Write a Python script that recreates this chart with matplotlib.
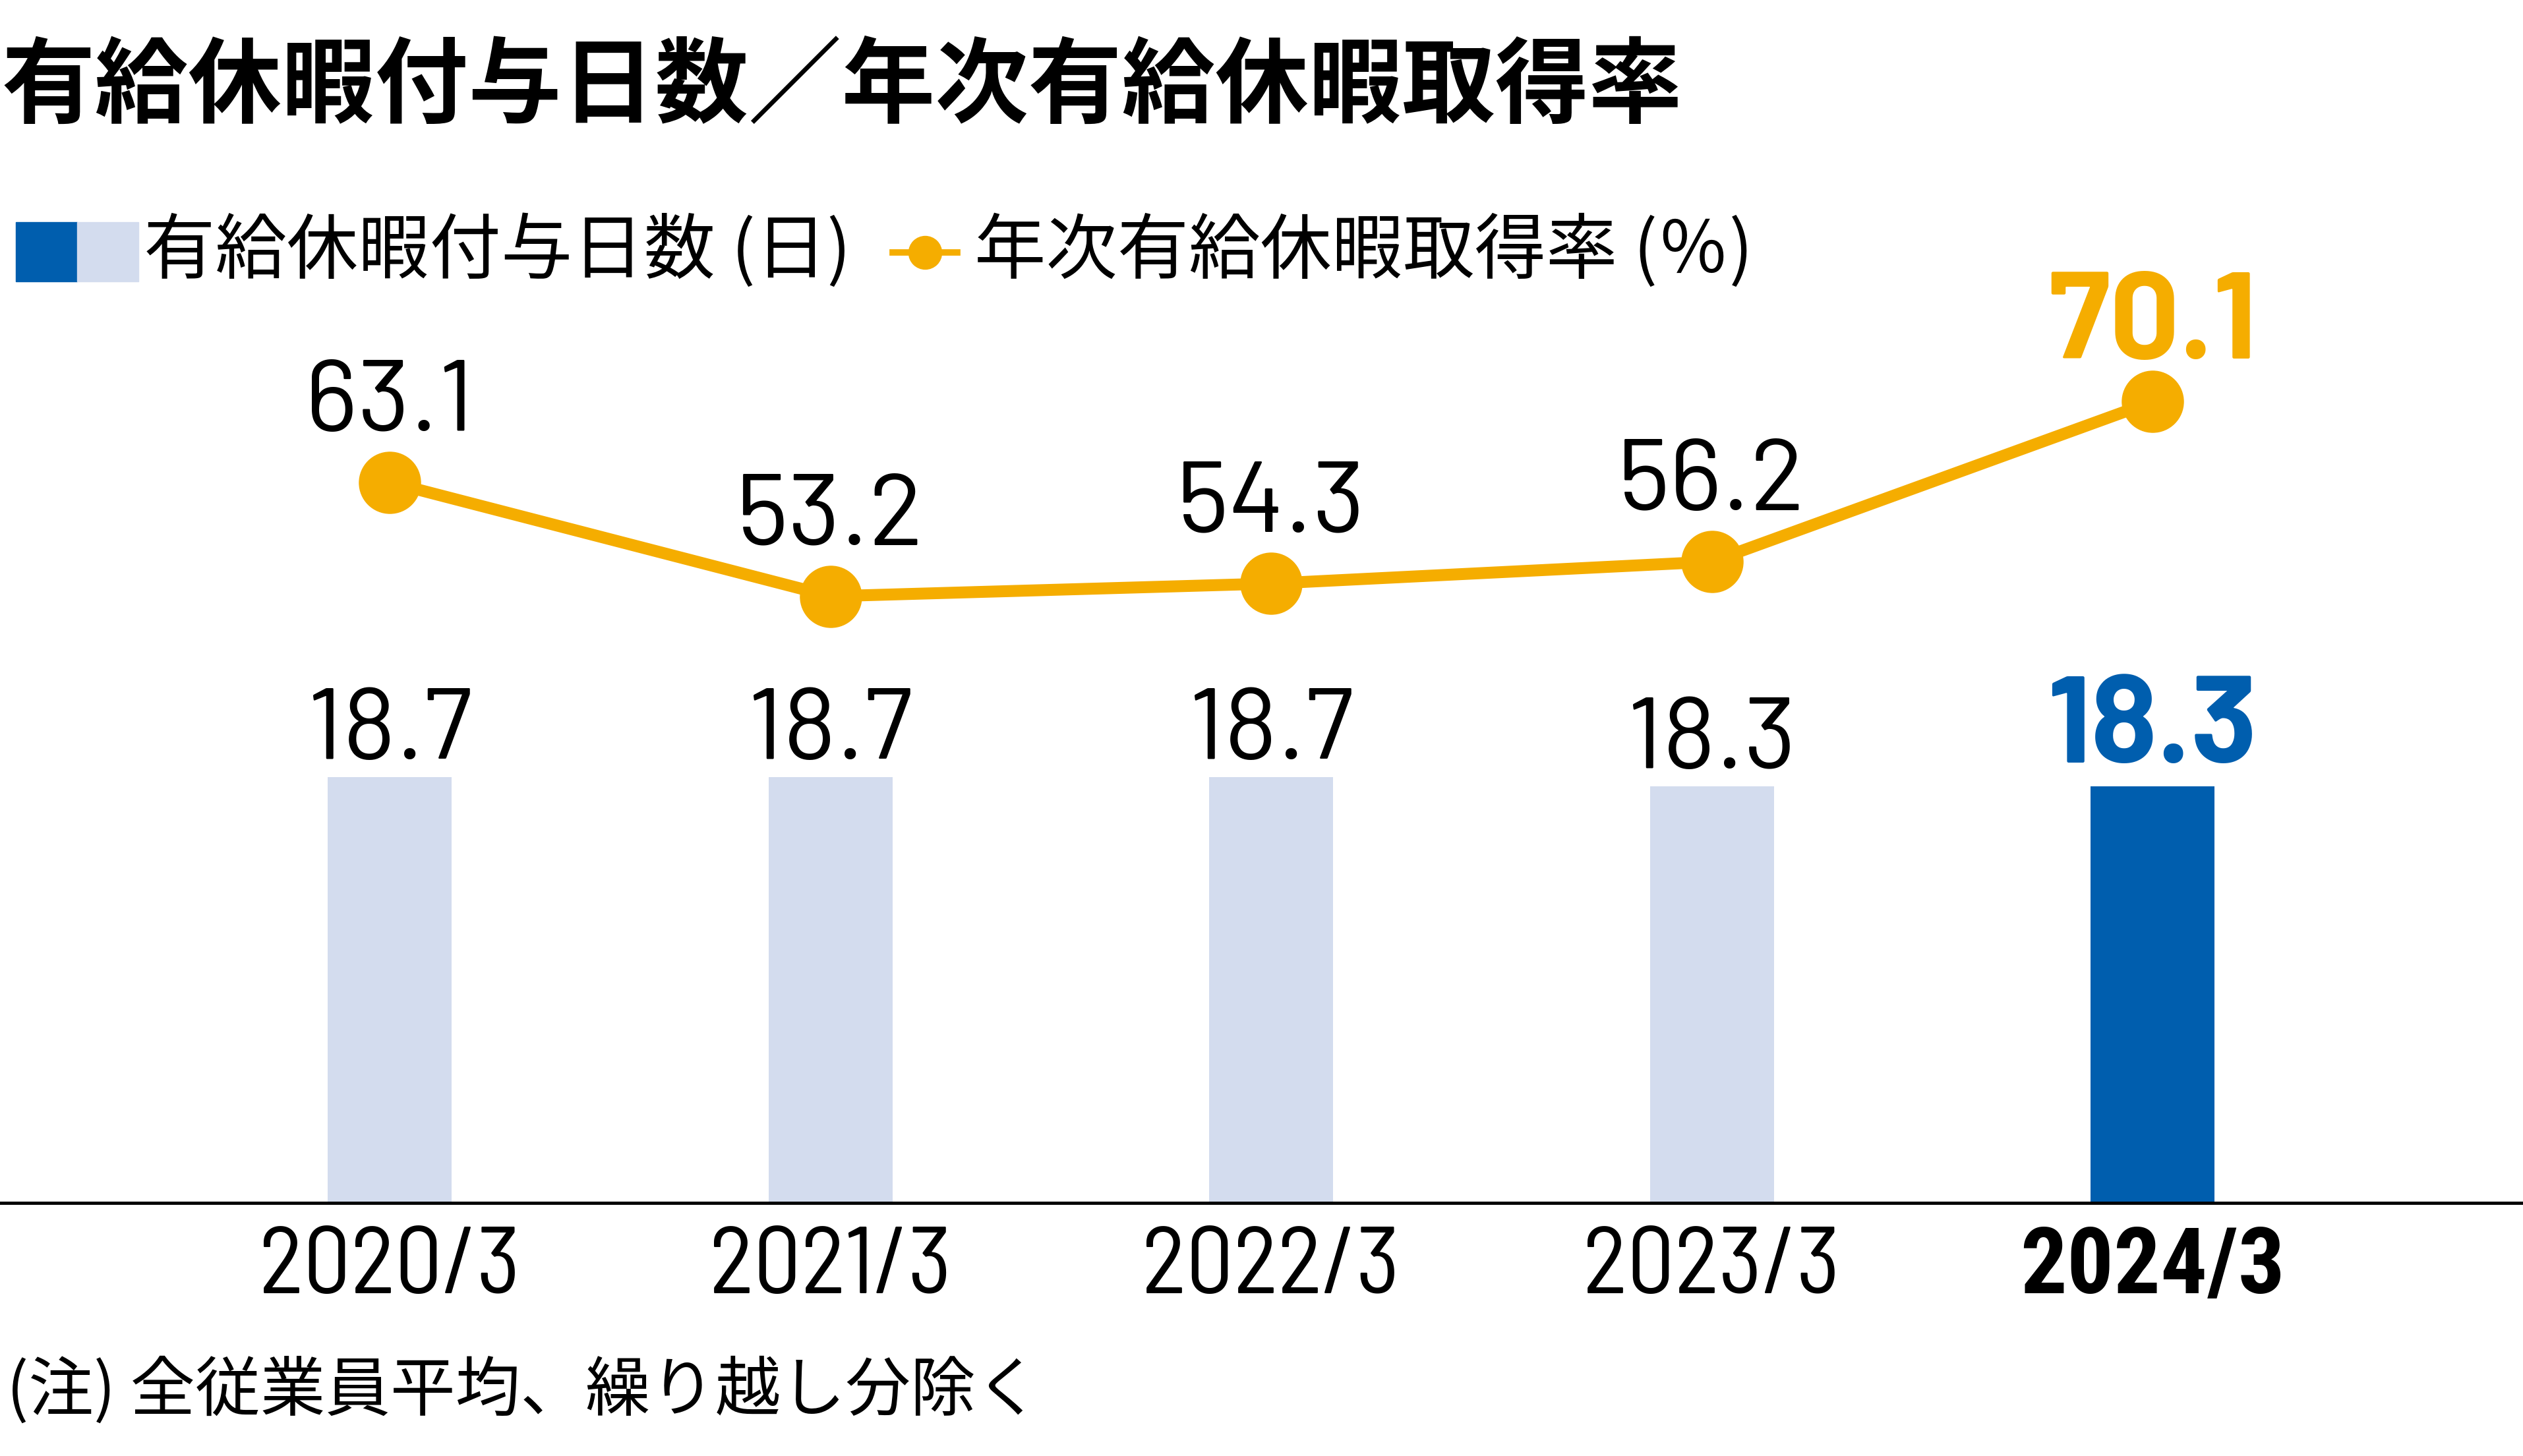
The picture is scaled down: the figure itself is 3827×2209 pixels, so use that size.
import matplotlib
matplotlib.use("Agg")
import matplotlib.pyplot as plt
from matplotlib.patches import Rectangle
from matplotlib.lines import Line2D
from matplotlib import font_manager as fm
from matplotlib.font_manager import FontProperties
from matplotlib.textpath import TextPath

categories = ["2020/3", "2021/3", "2022/3", "2023/3", "2024/3"]
days = [18.7, 18.7, 18.7, 18.3, 18.3]
rate = [63.1, 53.2, 54.3, 56.2, 70.1]
day_labels = ["18.7", "18.7", "18.7", "18.3", "18.3"]
rate_labels = ["63.1", "53.2", "54.3", "56.2", "70.1"]

title = "有給休暇付与日数／年次有給休暇取得率"
legend1 = "有給休暇付与日数 (日)"
legend2 = "年次有給休暇取得率 (％)"
note = "(注) 全従業員平均、繰り越し分除く"

LIGHT = "#D3DCEE"
BLUE = "#005EAE"
YEL = "#F5AD00"

W, H = 3827, 2209
DPI = 100

# ---- pick a DIN-like numeric font whose proportions fit best ----
names = {f.name for f in fm.fontManager.ttflist}
cands = [c for c in ["Barlow Condensed", "Barlow Semi Condensed", "Barlow",
                     "Roboto Condensed", "Roboto"] if c in names] or ["DejaVu Sans"]


def ink(text, family, weight):
    tp = TextPath((0, 0), text, size=100,
                  prop=FontProperties(family=family, weight=weight))
    e = tp.get_extents()
    return e.width, e.height


def pick(text, weight, target):
    best, bd = cands[0], 1e9
    for c in cands:
        w, _ = ink(text, c, weight)
        _, hc = ink("1", c, weight)
        d = abs(w / hc - target)
        if d < bd:
            best, bd = c, d
    return best


NUM_R = pick("18.7", "normal", 233 / 109)
NUM_B = pick("70.1", "bold", 313 / 131)
TICK_R = pick("2020/3", "normal", 366 / 100)
TICK_B = pick("2024/3", "bold", 386 / 100)


def size_for(cap_px, family, weight):
    _, hc = ink("1", family, weight)
    return cap_px / (hc / 100 * DPI / 72)


SZ_VAL = size_for(108, NUM_R, "normal")
SZ_BOLD = size_for(131, NUM_B, "bold")
SZ_TICK = size_for(100, TICK_R, "normal")
SZ_TICKB = size_for(100, TICK_B, "bold")

CJK = ["Noto Sans CJK JP", "DejaVu Sans"]

fig = plt.figure(figsize=(W / DPI, H / DPI), dpi=DPI)


def fx(px):
    return px / W


def fy(py):
    return 1 - py / H


PT = 72 / DPI  # points per pixel

base_y = 1825
top_y = 450
ax = fig.add_axes([0, fy(base_y), 1, (base_y - top_y) / H])
x = list(range(len(categories)))
ax.set_xlim(-591 / 668.5, (W - 591) / 668.5)
ax.set_ylim(0, (base_y - top_y) / 34.55)

bar_colors = [LIGHT] * 4 + [BLUE]
ax.bar(x, days, width=188 / 668.5, color=bar_colors, zorder=2)

for spine in ["top", "right", "left"]:
    ax.spines[spine].set_visible(False)
ax.spines["bottom"].set_linewidth(3.5)
ax.spines["bottom"].set_color("black")
ax.set_yticks([])
ax.set_xticks(x)
ax.set_xticklabels([""] * len(x))
ax.tick_params(axis="x", length=0)

# category labels, baseline 137 px below the axis line
for i, lab in enumerate(categories):
    last = i == len(categories) - 1
    ax.annotate(lab, (i, 0), xycoords=("data", "axes fraction"),
                xytext=(0, -137 * PT), textcoords="offset points",
                ha="center", va="baseline",
                fontfamily=TICK_B if last else TICK_R,
                fontsize=SZ_TICKB if last else SZ_TICK,
                fontweight="bold" if last else "normal", annotation_clip=False)

for i, (v, lab) in enumerate(zip(days, day_labels)):
    last = i == len(days) - 1
    ax.annotate(lab, (i, v), xytext=(0, (36 if last else 27) * PT),
                textcoords="offset points",
                ha="center", va="baseline",
                fontfamily=NUM_B if last else NUM_R,
                fontsize=SZ_BOLD if last else SZ_VAL,
                fontweight="bold" if last else "normal",
                color=BLUE if last else "black", zorder=5)

ax2 = ax.twinx()
ax2.set_ylim((1834 - base_y) / 17.47, (1834 - top_y) / 17.47)
ax2.axis("off")
ax2.plot(x, rate, color=YEL, lw=13, marker="o", markersize=67, zorder=3,
         solid_capstyle="butt")
for i, (v, lab) in enumerate(zip(rate, rate_labels)):
    last = i == len(rate) - 1
    ax2.annotate(lab, (i, v), xytext=(0, (65 if last else 78) * PT),
                 textcoords="offset points",
                 ha="center", va="baseline",
                 fontfamily=NUM_B if last else NUM_R,
                 fontsize=SZ_BOLD if last else SZ_VAL,
                 fontweight="bold" if last else "normal",
                 color=YEL if last else "black")

# title
fig.text(fx(2), fy(134), title, fontfamily=CJK, fontsize=102, fontweight="bold",
         ha="left", va="center")

# legend
fig.patches.append(Rectangle((fx(24), fy(427)), fx(93), 90 / H, color=BLUE,
                             transform=fig.transFigure, figure=fig))
fig.patches.append(Rectangle((fx(117), fy(427)), fx(93), 90 / H, color=LIGHT,
                             transform=fig.transFigure, figure=fig))
fig.text(fx(218), fy(383), legend1, fontfamily=CJK, fontsize=78, ha="left", va="center")
fig.lines.append(Line2D([fx(1354), fx(1452)], [fy(383), fy(383)], color=YEL, lw=7,
                        transform=fig.transFigure, figure=fig))
fig.lines.append(Line2D([fx(1403)], [fy(383)], color=YEL, marker="o", markersize=36,
                        lw=0, transform=fig.transFigure, figure=fig))
fig.text(fx(1478), fy(383), legend2, fontfamily=CJK, fontsize=78, ha="left", va="center")

# footnote
fig.text(fx(10), fy(2111), note, fontfamily=CJK, fontsize=71, ha="left", va="center")

fig.savefig("out.png", dpi=DPI, facecolor="white")
